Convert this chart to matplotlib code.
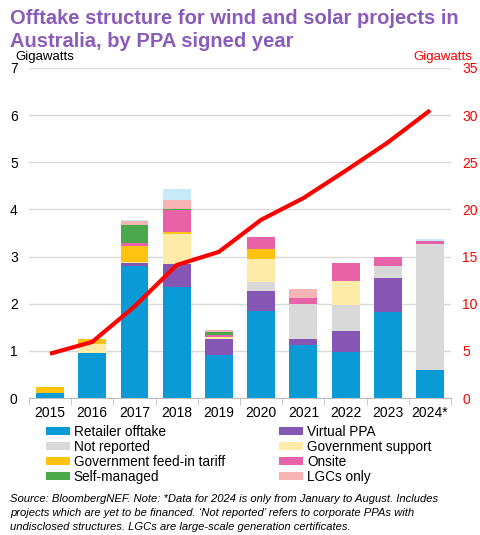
import matplotlib
matplotlib.use("Agg")
import matplotlib.pyplot as plt
import numpy as np

years = ["2015", "2016", "2017", "2018", "2019", "2020", "2021", "2022", "2023", "2024*"]
retailer = [0.10, 0.95, 2.80, 2.35, 0.92, 1.84, 1.12, 0.97, 1.82, 0.60]
vppa = [0.00, 0.00, 0.06, 0.49, 0.33, 0.42, 0.14, 0.46, 0.72, 0.00]
not_reported = [0.00, 0.00, 0.00, 0.00, 0.00, 0.21, 0.74, 0.55, 0.27, 2.67]
gov_support = [0.00, 0.19, 0.02, 0.63, 0.04, 0.48, 0.00, 0.51, 0.00, 0.00]
feed_in = [0.14, 0.11, 0.35, 0.05, 0.00, 0.20, 0.00, 0.00, 0.00, 0.00]
onsite = [0.00, 0.00, 0.05, 0.46, 0.04, 0.26, 0.12, 0.38, 0.19, 0.07]
self_managed = [0.00, 0.00, 0.40, 0.03, 0.07, 0.00, 0.00, 0.00, 0.00, 0.00]
lgcs = [0.00, 0.00, 0.07, 0.18, 0.04, 0.00, 0.19, 0.00, 0.00, 0.00]
other = [0.00, 0.00, 0.03, 0.24, 0.00, 0.00, 0.00, 0.00, 0.00, 0.04]
cumulative = [4.7, 5.95, 9.7, 14.1, 15.5, 18.9, 21.2, 24.1, 27.1, 30.5]

series = [
    ("Retailer offtake", retailer, "#0A9BD7"),
    ("Virtual PPA", vppa, "#8656B4"),
    ("Not reported", not_reported, "#D9D9D9"),
    ("Government support", gov_support, "#FFEBA8"),
    ("Government feed-in tariff", feed_in, "#FFC20E"),
    ("Onsite", onsite, "#E862A8"),
    ("Self-managed", self_managed, "#4BA84B"),
    ("LGCs only", lgcs, "#F6B4B4"),
    (None, other, "#C8E9F8"),
]

plt.rcParams['font.family'] = ['Liberation Sans', 'DejaVu Sans']

fig = plt.figure(figsize=(4.81, 5.35), dpi=100)
ax = fig.add_axes([0.060, 0.256, 0.878, 0.617])
x = np.arange(len(years))
bottom = np.zeros(len(years))
handles = {}
for name, vals, col in series:
    v = np.array(vals)
    b = ax.bar(x, v, 0.66, bottom=bottom, color=col, edgecolor="none", zorder=2)
    if name:
        handles[name] = b
    bottom += v

ax.set_xlim(-0.5, len(years) - 0.5)
ax.set_ylim(0, 7)
ax.set_yticks(range(0, 8))
ax.yaxis.grid(True, color="#D9D9D9", linewidth=1, zorder=0)
ax.set_axisbelow(True)
for s in ["top", "right", "left"]:
    ax.spines[s].set_visible(False)
ax.spines["bottom"].set_color("#BFBFBF")
ax.set_xticks(x)
ax.set_xticklabels(years, fontsize=10)
ax.set_xticks(np.arange(-0.5, len(years), 1), minor=True)
ax.tick_params(axis="x", which="major", length=0, pad=6)
ax.tick_params(axis="x", which="minor", length=5, color="#BFBFBF")
ax.tick_params(axis="y", length=0, labelsize=10, pad=8)

ax2 = ax.twinx()
ax2.set_ylim(0, 35)
ax2.set_yticks(range(0, 36, 5))
ax2.plot(x, cumulative, color="#FF0000", linewidth=3, zorder=5, solid_capstyle="butt")
for s in ["top", "right", "left", "bottom"]:
    ax2.spines[s].set_visible(False)
ax2.tick_params(axis="y", length=0, labelsize=10, labelcolor="#FF0000", pad=8)

fig.text(0.021, 0.984, "Offtake structure for wind and solar projects in\nAustralia, by PPA signed year",
         fontsize=14.5, fontweight="bold", color="#8A5CBA", va="top", ha="left", linespacing=1.3)
fig.text(0.031, 0.893, "Gigawatts", fontsize=9.5, color="black", va="center")
fig.text(0.982, 0.893, "Gigawatts", fontsize=9.5, color="#FF0000", va="center", ha="right")

left_col = ["Retailer offtake", "Not reported", "Government feed-in tariff", "Self-managed"]
right_col = ["Virtual PPA", "Government support", "Onsite", "LGCs only"]
common = dict(frameon=False, fontsize=9.8, handlelength=1.8, handleheight=0.55,
              handletextpad=0.25, labelspacing=0.08, borderaxespad=0, borderpad=0,
              loc="upper left")
leg1 = fig.legend([handles[n] for n in left_col], left_col,
                  bbox_to_anchor=(0.095, 0.206), **common)
leg2 = fig.legend([handles[n] for n in right_col], right_col,
                  bbox_to_anchor=(0.580, 0.206), **common)

fig.text(0.021, 0.041,
         "Source: BloombergNEF. Note: *Data for 2024 is only from January to August. Includes\n"
         "projects which are yet to be financed. \u2018Not reported\u2019 refers to corporate PPAs with\n"
         "undisclosed structures. LGCs are large-scale generation certificates.",
         fontsize=8.1, style="italic", va="center", ha="left", linespacing=1.45)

fig.savefig("out.png", dpi=100)
